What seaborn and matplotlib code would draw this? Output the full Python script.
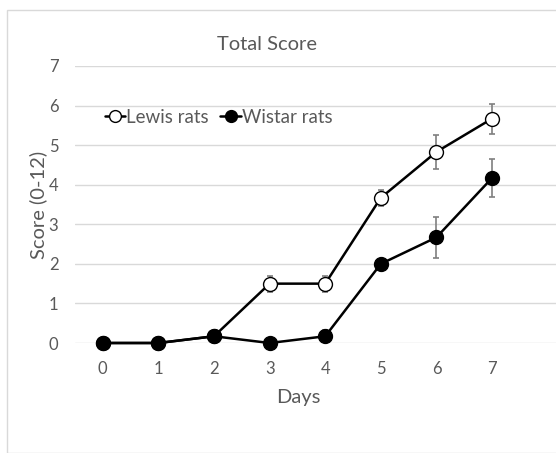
import numpy as np
import pandas as pd
import matplotlib
matplotlib.use("Agg")
import matplotlib.pyplot as plt
import seaborn as sns
from matplotlib.patches import Rectangle

days = [0, 1, 2, 3, 4, 5, 6, 7]
lewis_mean = [0, 0, 0.17, 1.5, 1.5, 3.67, 4.83, 5.67]
lewis_err = [0, 0, 0.1, 0.2, 0.2, 0.2, 0.43, 0.38]
wistar_mean = [0, 0, 0.17, 0, 0.17, 2.0, 2.67, 4.17]
wistar_err = [0, 0, 0.1, 0, 0.15, 0, 0.52, 0.49]

df = pd.DataFrame({
    "Days": days * 2,
    "Score": lewis_mean + wistar_mean,
    "err": lewis_err + wistar_err,
    "group": ["Lewis rats"] * 8 + ["Wistar rats"] * 8,
})

sns.set_style("white")
plt.rcParams['font.family'] = ['Lato', 'DejaVu Sans']
text_col = "#595959"

fig = plt.figure(figsize=(5.56, 4.53), dpi=100)
fig.patches.append(Rectangle((7 / 556, 0), 1.2, 1 - 10 / 453, transform=fig.transFigure,
                             fill=False, edgecolor="#d9d9d9", linewidth=1))
ax = fig.add_axes([75 / 556, 1 - 343 / 453, 1 - 75 / 556, (343 - 66) / 453])

for y in range(0, 8):
    ax.axhline(y, color="#d9d9d9", lw=1, zorder=0)

fills = {"Lewis rats": "white", "Wistar rats": "black"}
for g, sub in df.groupby("group"):
    ax.errorbar(sub["Days"], sub["Score"], yerr=sub["err"], fmt="none",
                ecolor="#7f7f7f", elinewidth=1.2, capsize=2.5, capthick=1.2,
                zorder=2, clip_on=False)
    sns.lineplot(data=sub, x="Days", y="Score", ax=ax, color="black", lw=1.8,
                 marker="o", markersize=10, markerfacecolor=fills[g],
                 markeredgecolor="black", markeredgewidth=1, label=g,
                 zorder=3, clip_on=False)

ax.set_xlim(-0.5, 8.15)
ax.set_ylim(0, 7)
ax.set_xticks(days)
ax.set_yticks(range(0, 8))
for s in ax.spines.values():
    s.set_visible(False)
ax.tick_params(axis="both", length=0, labelsize=12, colors=text_col)
ax.tick_params(axis="y", pad=12)
ax.tick_params(axis="x", pad=13)
ax.set_xlabel("")
ax.set_ylabel("")

fig.text(267 / 556, 1 - 44 / 453, "Total Score", ha="center", va="center", fontsize=14.5, color=text_col)
fig.text(298 / 556, 1 - 398 / 453, "Days", ha="center", va="center", fontsize=14.5, color=text_col)
fig.text(38 / 556, 1 - 205 / 453, "Score (0-12)", ha="center", va="center", rotation=90,
         fontsize=14.5, color=text_col)

leg = ax.legend(loc="center left", bbox_to_anchor=(0.062, 0.815), frameon=False, ncol=2,
                fontsize=13.5, handlelength=1.1, handletextpad=0.05, columnspacing=0.6,
                markerscale=0.85, borderaxespad=0, borderpad=0)
for t in leg.get_texts():
    t.set_color(text_col)

fig.savefig("out.png", dpi=100)
